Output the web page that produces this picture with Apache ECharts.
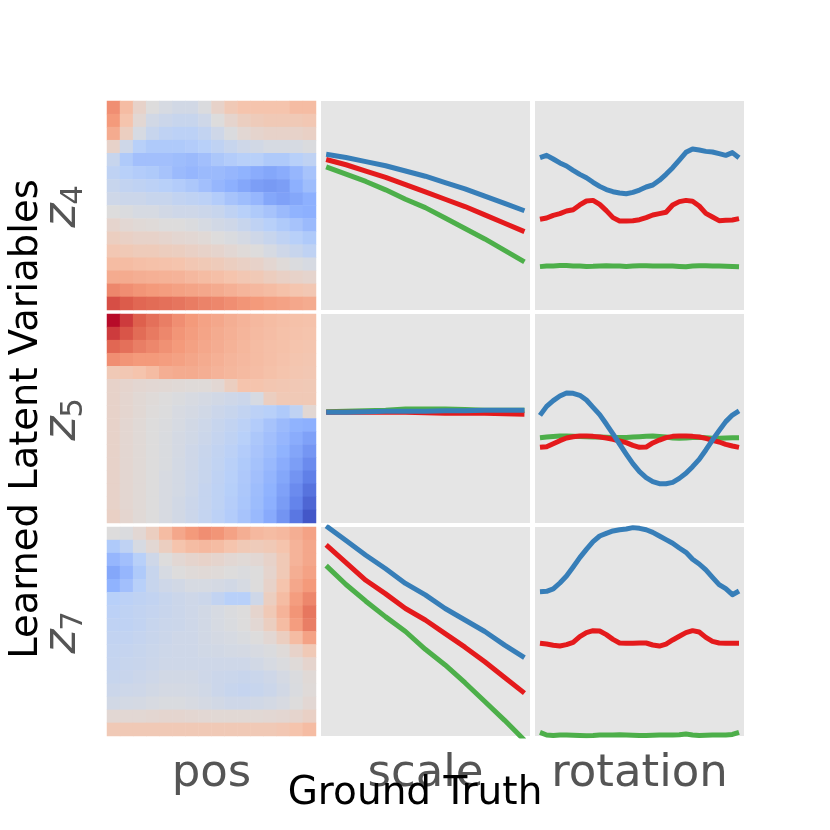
<!DOCTYPE html>
<html>
<head>
<meta charset="utf-8">
<script src="https://cdn.jsdelivr.net/npm/echarts@6/dist/echarts.min.js"></script>
<style>
  html, body { margin: 0; padding: 0; background: #ffffff; }
  #main { width: 830px; height: 830px; }
</style>
</head>
<body>
<div id="main"></div>
<script>
// ground truth factors and learned latents
var latents = ['4', '5', '7'];
var columns = ['pos', 'scale', 'rotation'];

// pos heatmaps: 16 x 16 cells, row 0 is the top
var posCells = ['0','1','2','3','4','5','6','7','8','9','10','11','12','13','14','15'];

var posZ4 = [
  [0.55,0.3,0.1,0,-0.05,-0.08,-0.08,-0.02,0.1,0.2,0.25,0.25,0.25,0.25,0.3,0.3],
  [0.5,0.25,0.05,-0.08,-0.12,-0.15,-0.15,-0.1,0,0.08,0.15,0.18,0.2,0.2,0.2,0.22],
  [0.4,0.15,-0.05,-0.15,-0.2,-0.22,-0.22,-0.18,-0.1,-0.02,0.05,0.08,0.1,0.1,0.1,0.12],
  [0.1,-0.1,-0.25,-0.3,-0.3,-0.3,-0.28,-0.25,-0.2,-0.15,-0.1,-0.08,-0.05,-0.05,-0.05,-0.02],
  [-0.15,-0.3,-0.38,-0.38,-0.38,-0.4,-0.42,-0.38,-0.32,-0.28,-0.25,-0.25,-0.3,-0.3,-0.25,-0.2],
  [-0.2,-0.25,-0.28,-0.3,-0.35,-0.42,-0.45,-0.42,-0.42,-0.45,-0.48,-0.52,-0.55,-0.52,-0.45,-0.35],
  [-0.15,-0.18,-0.2,-0.22,-0.25,-0.28,-0.32,-0.38,-0.45,-0.5,-0.55,-0.6,-0.62,-0.6,-0.5,-0.4],
  [-0.1,-0.12,-0.12,-0.15,-0.15,-0.18,-0.2,-0.22,-0.28,-0.35,-0.4,-0.45,-0.55,-0.58,-0.55,-0.5],
  [0,-0.02,-0.05,-0.05,-0.08,-0.1,-0.1,-0.12,-0.15,-0.2,-0.25,-0.3,-0.35,-0.42,-0.48,-0.5],
  [0.08,0.05,0.03,0.02,0,0,-0.02,-0.05,-0.08,-0.1,-0.15,-0.2,-0.25,-0.3,-0.35,-0.42],
  [0.15,0.12,0.1,0.1,0.08,0.06,0.05,0.03,0,-0.03,-0.06,-0.1,-0.15,-0.2,-0.25,-0.3],
  [0.22,0.2,0.18,0.18,0.16,0.15,0.12,0.1,0.08,0.05,0.02,0,-0.05,-0.1,-0.15,-0.2],
  [0.3,0.3,0.28,0.27,0.26,0.25,0.22,0.2,0.18,0.15,0.12,0.1,0.06,0.02,-0.02,-0.05],
  [0.4,0.4,0.38,0.37,0.36,0.35,0.32,0.3,0.28,0.25,0.22,0.2,0.16,0.12,0.1,0.08],
  [0.58,0.55,0.52,0.5,0.48,0.46,0.44,0.42,0.4,0.37,0.34,0.32,0.3,0.27,0.24,0.22],
  [0.8,0.76,0.72,0.7,0.68,0.66,0.63,0.6,0.58,0.55,0.52,0.5,0.47,0.45,0.42,0.4]
];

var posZ5 = [
  [0.98,0.85,0.75,0.68,0.62,0.55,0.5,0.45,0.42,0.38,0.35,0.32,0.3,0.28,0.27,0.26],
  [0.85,0.78,0.7,0.64,0.58,0.52,0.48,0.44,0.4,0.37,0.34,0.31,0.29,0.27,0.26,0.25],
  [0.72,0.68,0.62,0.58,0.54,0.5,0.46,0.42,0.39,0.36,0.33,0.3,0.28,0.27,0.25,0.24],
  [0.55,0.52,0.5,0.5,0.48,0.46,0.43,0.4,0.37,0.34,0.32,0.3,0.28,0.26,0.24,0.23],
  [0.2,0.22,0.25,0.3,0.38,0.4,0.4,0.38,0.35,0.33,0.31,0.29,0.27,0.25,0.23,0.22],
  [0.1,0.08,0.06,0.05,0.04,0.03,0.02,0.02,0.05,0.15,0.25,0.25,0.23,0.22,0.21,0.2],
  [0.1,0.07,0.04,0.02,0,-0.02,-0.04,-0.06,-0.08,-0.1,-0.12,-0.05,0.15,0.2,0.2,0.2],
  [0.1,0.07,0.04,0.01,-0.01,-0.04,-0.06,-0.09,-0.12,-0.15,-0.18,-0.22,-0.25,-0.3,-0.2,0.05],
  [0.1,0.06,0.03,0,-0.02,-0.05,-0.08,-0.11,-0.15,-0.18,-0.22,-0.28,-0.35,-0.42,-0.48,-0.5],
  [0.1,0.06,0.03,0,-0.03,-0.06,-0.09,-0.12,-0.16,-0.2,-0.25,-0.32,-0.38,-0.45,-0.52,-0.58],
  [0.1,0.06,0.03,0,-0.03,-0.06,-0.1,-0.14,-0.18,-0.22,-0.28,-0.34,-0.4,-0.48,-0.56,-0.64],
  [0.1,0.06,0.03,0,-0.03,-0.07,-0.1,-0.15,-0.19,-0.24,-0.3,-0.36,-0.43,-0.52,-0.6,-0.7],
  [0.1,0.06,0.03,0,-0.04,-0.07,-0.11,-0.15,-0.2,-0.25,-0.31,-0.38,-0.46,-0.55,-0.65,-0.76],
  [0.1,0.06,0.03,0,-0.04,-0.07,-0.11,-0.16,-0.21,-0.26,-0.32,-0.4,-0.48,-0.58,-0.7,-0.82],
  [0.1,0.06,0.03,0,-0.04,-0.08,-0.12,-0.16,-0.21,-0.27,-0.33,-0.41,-0.5,-0.61,-0.74,-0.88],
  [0.12,0.07,0.03,0,-0.04,-0.08,-0.12,-0.17,-0.22,-0.28,-0.35,-0.43,-0.53,-0.65,-0.8,-0.95]
];

var posZ7 = [
  [0,-0.02,0.05,0.15,0.3,0.42,0.5,0.55,0.52,0.45,0.38,0.32,0.3,0.32,0.38,0.45],
  [-0.3,-0.2,-0.05,0.05,0.15,0.25,0.3,0.32,0.3,0.25,0.2,0.18,0.2,0.25,0.35,0.42],
  [-0.45,-0.38,-0.25,-0.1,0,0.05,0.08,0.1,0.08,0.05,0.03,0.05,0.1,0.2,0.35,0.42],
  [-0.55,-0.45,-0.3,-0.15,-0.05,0,0.02,0.03,0.02,0,-0.02,0,0.08,0.2,0.38,0.45],
  [-0.48,-0.38,-0.25,-0.15,-0.1,-0.08,-0.05,-0.05,-0.06,-0.08,-0.05,0,0.1,0.25,0.42,0.5],
  [-0.25,-0.22,-0.2,-0.18,-0.15,-0.12,-0.1,-0.12,-0.18,-0.25,-0.25,-0.1,0.15,0.3,0.48,0.58],
  [-0.22,-0.2,-0.18,-0.16,-0.14,-0.12,-0.1,-0.08,-0.05,-0.02,0,0.08,0.2,0.35,0.52,0.65],
  [-0.2,-0.2,-0.18,-0.15,-0.13,-0.12,-0.1,-0.08,-0.05,-0.03,0,0.05,0.15,0.3,0.48,0.62],
  [-0.18,-0.18,-0.16,-0.14,-0.12,-0.1,-0.1,-0.08,-0.06,-0.05,-0.03,0,0.05,0.15,0.3,0.45],
  [-0.17,-0.16,-0.15,-0.13,-0.11,-0.1,-0.1,-0.09,-0.08,-0.07,-0.06,-0.04,-0.02,0.02,0.1,0.2],
  [-0.16,-0.15,-0.14,-0.12,-0.1,-0.1,-0.1,-0.1,-0.1,-0.1,-0.1,-0.08,-0.05,-0.02,0.02,0.08],
  [-0.15,-0.14,-0.12,-0.1,-0.08,-0.08,-0.08,-0.1,-0.12,-0.13,-0.14,-0.13,-0.1,-0.06,-0.02,0.03],
  [-0.12,-0.11,-0.1,-0.08,-0.06,-0.06,-0.07,-0.09,-0.12,-0.15,-0.16,-0.15,-0.12,-0.08,-0.03,0.02],
  [-0.08,-0.07,-0.06,-0.04,-0.03,-0.03,-0.04,-0.06,-0.08,-0.1,-0.1,-0.09,-0.07,-0.04,0,0.05],
  [0.05,0.05,0.05,0.06,0.07,0.07,0.06,0.05,0.04,0.04,0.04,0.04,0.05,0.06,0.08,0.12],
  [0.2,0.2,0.2,0.2,0.2,0.2,0.2,0.2,0.2,0.2,0.2,0.2,0.2,0.22,0.25,0.3]
];

// scale: 11 samples
var scaleX = [0.5,0.55,0.6,0.65,0.7,0.75,0.8,0.85,0.9,0.95,1.0];

var scaleZ4Blue  = [0.49,0.46,0.42,0.38,0.33,0.28,0.22,0.16,0.09,0.02,-0.05];
var scaleZ4Red   = [0.44,0.39,0.33,0.27,0.2,0.13,0.06,-0.01,-0.09,-0.17,-0.25];
var scaleZ4Green = [0.37,0.3,0.23,0.15,0.06,-0.02,-0.12,-0.22,-0.32,-0.43,-0.54];

var scaleZ5Blue  = [0.06,0.06,0.065,0.07,0.07,0.07,0.075,0.075,0.08,0.08,0.08];
var scaleZ5Red   = [0.06,0.06,0.06,0.06,0.06,0.055,0.05,0.05,0.05,0.045,0.04];
var scaleZ5Green = [0.065,0.07,0.075,0.08,0.09,0.09,0.09,0.085,0.08,0.08,0.08];

var scaleZ7Blue  = [1.01,0.87,0.73,0.6,0.46,0.35,0.22,0.11,0,-0.13,-0.25];
var scaleZ7Red   = [0.83,0.66,0.49,0.36,0.22,0.11,-0.02,-0.15,-0.29,-0.44,-0.59];
var scaleZ7Green = [0.63,0.45,0.29,0.14,0,-0.17,-0.32,-0.49,-0.67,-0.85,-1.04];

// rotation: 31 samples, degrees
var rotX = [0,12,24,36,48,60,72,84,96,108,120,132,144,156,168,180,192,204,216,228,240,252,264,276,288,300,312,324,336,348,360];

var rotZ4Blue = [0.458,0.48,0.445,0.407,0.378,0.337,0.298,0.266,0.222,0.183,0.152,0.132,0.12,0.113,0.126,0.148,
  0.177,0.196,0.241,0.298,0.362,0.435,0.509,0.541,0.531,0.518,0.512,0.496,0.48,0.506,0.458];
var rotZ4Red = [-0.132,-0.12,-0.094,-0.078,-0.053,-0.04,0.005,0.043,0.049,0.011,-0.049,-0.116,-0.148,-0.148,-0.145,-0.136,
  -0.116,-0.091,-0.078,-0.065,0.005,0.037,0.049,0.04,-0.005,-0.075,-0.11,-0.145,-0.142,-0.139,-0.126];
var rotZ4Green = [-0.585,-0.58,-0.578,-0.575,-0.575,-0.578,-0.58,-0.583,-0.582,-0.578,-0.576,-0.578,-0.58,-0.583,-0.58,-0.576,
  -0.577,-0.58,-0.58,-0.578,-0.58,-0.583,-0.586,-0.578,-0.577,-0.577,-0.578,-0.58,-0.582,-0.583,-0.585];

var rotZ5Blue = [0.03,0.116,0.171,0.215,0.244,0.241,0.222,0.177,0.107,0.037,-0.053,-0.148,-0.244,-0.34,-0.432,-0.509,
  -0.566,-0.604,-0.624,-0.624,-0.611,-0.573,-0.525,-0.461,-0.391,-0.301,-0.206,-0.116,-0.03,0.033,0.072];
var rotZ5Red = [-0.276,-0.27,-0.241,-0.212,-0.187,-0.174,-0.167,-0.167,-0.171,-0.177,-0.187,-0.199,-0.215,-0.231,-0.257,-0.276,
  -0.273,-0.234,-0.206,-0.183,-0.171,-0.167,-0.167,-0.171,-0.177,-0.19,-0.209,-0.225,-0.247,-0.263,-0.276];
var rotZ5Green = [-0.184,-0.178,-0.172,-0.168,-0.167,-0.17,-0.173,-0.175,-0.177,-0.178,-0.18,-0.182,-0.183,-0.182,-0.178,-0.174,
  -0.17,-0.168,-0.172,-0.178,-0.186,-0.188,-0.186,-0.182,-0.18,-0.184,-0.19,-0.188,-0.186,-0.185,-0.184];

var rotZ7Blue = [0.381,0.384,0.407,0.464,0.531,0.617,0.707,0.786,0.86,0.914,0.939,0.962,0.974,0.981,0.994,0.987,
  0.974,0.949,0.914,0.879,0.844,0.799,0.758,0.691,0.646,0.589,0.518,0.448,0.41,0.352,0.388];
var rotZ7Red = [-0.113,-0.12,-0.132,-0.139,-0.126,-0.104,-0.049,-0.011,0.008,0.005,-0.03,-0.075,-0.11,-0.113,-0.113,-0.11,
  -0.11,-0.129,-0.139,-0.12,-0.081,-0.046,-0.011,0.008,-0.005,-0.056,-0.094,-0.11,-0.113,-0.113,-0.113];
var rotZ7Green = [-0.965,-0.99,-0.995,-0.99,-0.99,-0.993,-0.995,-0.997,-0.995,-0.99,-0.99,-0.99,-0.988,-0.99,-0.993,-0.995,
  -0.995,-0.993,-0.99,-0.99,-0.99,-0.988,-0.98,-0.99,-0.995,-0.993,-0.99,-0.99,-0.99,-0.985,-0.965];

var coolwarm = ['#3b4cc0','#6282ea','#8db0fe','#b8d0f9','#dddcdc','#f5c4ad','#f49a7b','#de604d','#b40426'];
var blue = '#377eb8', red = '#e41a1c', green = '#4daf4a';

var heat = [posZ4, posZ5, posZ7];
var scaleLines = [
  [scaleZ4Green, scaleZ4Red, scaleZ4Blue],
  [scaleZ5Green, scaleZ5Red, scaleZ5Blue],
  [scaleZ7Green, scaleZ7Red, scaleZ7Blue]
];
var rotLines = [
  [rotZ4Green, rotZ4Red, rotZ4Blue],
  [rotZ5Green, rotZ5Red, rotZ5Blue],
  [rotZ7Green, rotZ7Red, rotZ7Blue]
];
var lineColors = [green, red, blue];

var cellLeft = [107, 321, 535];
var cellTop = [101, 314, 527];
var cellSize = 209;

function zip(xs, ys) {
  return xs.map(function (x, i) { return [x, ys[i]]; });
}

var grids = [], xAxes = [], yAxes = [], series = [];

for (var r = 0; r < 3; r++) {
  for (var c = 0; c < 3; c++) {
    grids.push({
      left: cellLeft[c], top: cellTop[r], width: cellSize, height: cellSize,
      show: c > 0, backgroundColor: '#e5e5e5', borderWidth: 0
    });
    var g = r * 3 + c;
    if (c === 0) {
      xAxes.push({ type: 'category', data: posCells, gridIndex: g, show: false });
      yAxes.push({ type: 'category', data: posCells, gridIndex: g, show: false, inverse: true });
    } else if (c === 1) {
      xAxes.push({ type: 'value', min: 0.487, max: 1.014, gridIndex: g, show: false });
      yAxes.push({ type: 'value', min: -1, max: 1, gridIndex: g, show: false });
    } else {
      xAxes.push({ type: 'value', min: -9, max: 369, gridIndex: g, show: false });
      yAxes.push({ type: 'value', min: -1, max: 1, gridIndex: g, show: false });
    }
  }
}

// heatmaps first so visualMap can pick them by index
heat.forEach(function (rows, r) {
  var data = [];
  rows.forEach(function (row, j) {
    row.forEach(function (v, i) { data.push([i, j, v]); });
  });
  series.push({
    type: 'heatmap', xAxisIndex: r * 3, yAxisIndex: r * 3,
    data: data, progressive: 0, itemStyle: { borderWidth: 0 }
  });
});

function addLines(sets, xs, col) {
  sets.forEach(function (set, r) {
    set.forEach(function (ys, k) {
      series.push({
        type: 'line', xAxisIndex: r * 3 + col, yAxisIndex: r * 3 + col,
        data: zip(xs, ys), showSymbol: false, clip: true,
        lineStyle: { color: lineColors[k], width: 5, join: 'round' },
        itemStyle: { color: lineColors[k] }
      });
    });
  });
}
addLines(scaleLines, scaleX, 1);
addLines(rotLines, rotX, 2);

var font = 'DejaVu Sans';
var graphics = [];

columns.forEach(function (name, c) {
  graphics.push({
    type: 'text', x: cellLeft[c] + cellSize / 2, y: 774,
    style: { text: name, fontSize: 45, fontFamily: font, fill: '#555555', align: 'center', verticalAlign: 'middle' }
  });
});

graphics.push({
  type: 'text', x: 415, y: 794,
  style: { text: 'Ground Truth', fontSize: 39, fontFamily: font, fill: '#000000', align: 'center', verticalAlign: 'middle' }
});

graphics.push({
  type: 'text', x: 27, y: 419, rotation: Math.PI / 2,
  style: { text: 'Learned Latent Variables', fontSize: 38.5, fontFamily: font, fill: '#000000', align: 'center', verticalAlign: 'middle' }
});

latents.forEach(function (sub, r) {
  var mid = cellTop[r] + cellSize / 2;
  graphics.push({
    type: 'text', x: 63, y: mid + 10, rotation: Math.PI / 2,
    style: { text: 'z', fontSize: 46, fontStyle: 'italic', fontFamily: font, fill: '#555555', align: 'center', verticalAlign: 'middle' }
  });
  graphics.push({
    type: 'text', x: 74, y: mid - 10.5, rotation: Math.PI / 2,
    style: { text: sub, fontSize: 31, fontFamily: font, fill: '#555555', align: 'center', verticalAlign: 'middle' }
  });
});

var chart = echarts.init(document.getElementById('main'), null, { renderer: 'canvas' });
chart.setOption({
  animation: false,
  backgroundColor: '#ffffff',
  grid: grids,
  xAxis: xAxes,
  yAxis: yAxes,
  visualMap: {
    type: 'continuous', min: -1, max: 1, show: false,
    seriesIndex: [0, 1, 2], inRange: { color: coolwarm }
  },
  series: series,
  graphic: graphics
});
</script>
</body>
</html>
